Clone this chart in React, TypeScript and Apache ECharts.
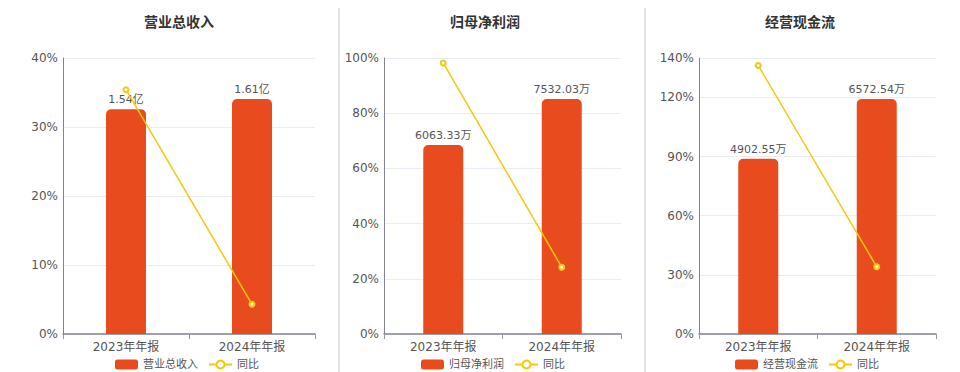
import React, { useEffect, useRef } from 'react';
import * as echarts from 'echarts';

const categories = ['2023年年报', '2024年年报'];
const titles = ['营业总收入', '归母净利润', '经营现金流'];
const units = ['亿', '万', '万'];
const revenue = [1.54, 1.61];
const netProfit = [6063.33, 7532.03];
const cashFlow = [4902.55, 6572.54];
const revenueYoy = [35.4, 4.3];
const netProfitYoy = [98.2, 24.2];
const cashFlowYoy = [136.2, 34.1];
const pctMax = [40, 100, 140];
const pctInterval = [10, 20, 30];

const barValues = [revenue, netProfit, cashFlow];
const yoyValues = [revenueYoy, netProfitYoy, cashFlowYoy];

const gridLayout = [
  { left: 63, width: 252 },
  { left: 384, width: 237 },
  { left: 699, width: 237 },
];
const titleCenters = [174, 480, 795];
const legendLefts = [110, 416, 730];

const BAR_COLOR = '#E84C1E';
const LINE_COLOR = '#F4C80C';
const FONT = '"DejaVu Sans", "Noto Sans CJK SC", sans-serif';

export default function App() {
  const ref = useRef<HTMLDivElement>(null);
  useEffect(() => {
    if (!ref.current) return;
    const chart = echarts.init(ref.current, null, { renderer: 'svg' });
    const grid: any[] = [];
    const xAxis: any[] = [];
    const yAxis: any[] = [];
    const series: any[] = [];
    const title: any[] = [];
    const legend: any[] = [];
    for (let i = 0; i < 3; i++) {
      grid.push({ left: gridLayout[i].left, width: gridLayout[i].width, top: 58, height: 276 });
      xAxis.push({
        type: 'category',
        gridIndex: i,
        data: categories,
        axisLine: { lineStyle: { color: '#80848F', width: 1.5 } },
        axisTick: { show: true, length: 5, lineStyle: { color: '#999' } },
        axisLabel: { color: '#555', fontSize: 12, margin: 7, fontFamily: FONT },
      });
      yAxis.push({
        type: 'value',
        gridIndex: i,
        min: 0,
        max: pctMax[i],
        interval: pctInterval[i],
        axisLine: { show: true, lineStyle: { color: '#80848F', width: 1 } },
        axisTick: { show: false },
        axisLabel: { color: '#555', fontSize: 12, margin: 5, fontFamily: FONT, formatter: '{value}%' },
        splitLine: { lineStyle: { color: '#E8ECF5' } },
      });
      yAxis.push({
        type: 'value',
        gridIndex: i,
        min: 0,
        max: (v: any) => v.max / 0.851,
        show: false,
        splitLine: { show: false },
      });
      series.push({
        type: 'bar',
        name: titles[i],
        xAxisIndex: i,
        yAxisIndex: i * 2 + 1,
        data: barValues[i],
        barWidth: 40,
        itemStyle: { color: BAR_COLOR, borderRadius: [5, 5, 0, 0] },
        label: {
          show: true,
          position: 'top',
          distance: 4,
          color: '#555',
          fontSize: 11,
          fontFamily: FONT,
          formatter: (p: any) => p.value + units[i],
        },
      });
      series.push({
        type: 'line',
        name: '同比',
        xAxisIndex: i,
        yAxisIndex: i * 2,
        data: yoyValues[i],
        symbol: 'emptyCircle',
        symbolSize: 5,
        lineStyle: { color: LINE_COLOR, width: 1.5 },
        itemStyle: { color: LINE_COLOR },
        z: 5,
      });
      title.push({
        text: titles[i],
        left: titleCenters[i],
        textAlign: 'center',
        top: 10,
        textStyle: { fontSize: 14, fontWeight: 'bold', color: '#333', fontFamily: FONT },
      });
      legend.push({
        data: [titles[i], '同比'],
        left: legendLefts[i],
        top: 354,
        itemWidth: 23,
        itemHeight: 10,
        itemGap: 10,
        textStyle: { fontSize: 11, color: '#555', fontFamily: FONT },
      });
    }
    chart.setOption({
      animation: false,
      backgroundColor: '#fff',
      textStyle: { fontFamily: FONT },
      title,
      legend,
      grid,
      xAxis,
      yAxis,
      series,
      graphic: [
        { type: 'line', shape: { x1: 339, y1: 8, x2: 339, y2: 372 }, style: { stroke: '#DADADA', lineWidth: 1.5 } },
        { type: 'line', shape: { x1: 645, y1: 8, x2: 645, y2: 372 }, style: { stroke: '#DADADA', lineWidth: 1.5 } },
      ],
    });
    return () => chart.dispose();
  }, []);
  return (
    <div
      ref={ref}
      style={{ position: 'fixed', left: 0, top: 0, width: 960, height: 372 }}
    />
  );
}
